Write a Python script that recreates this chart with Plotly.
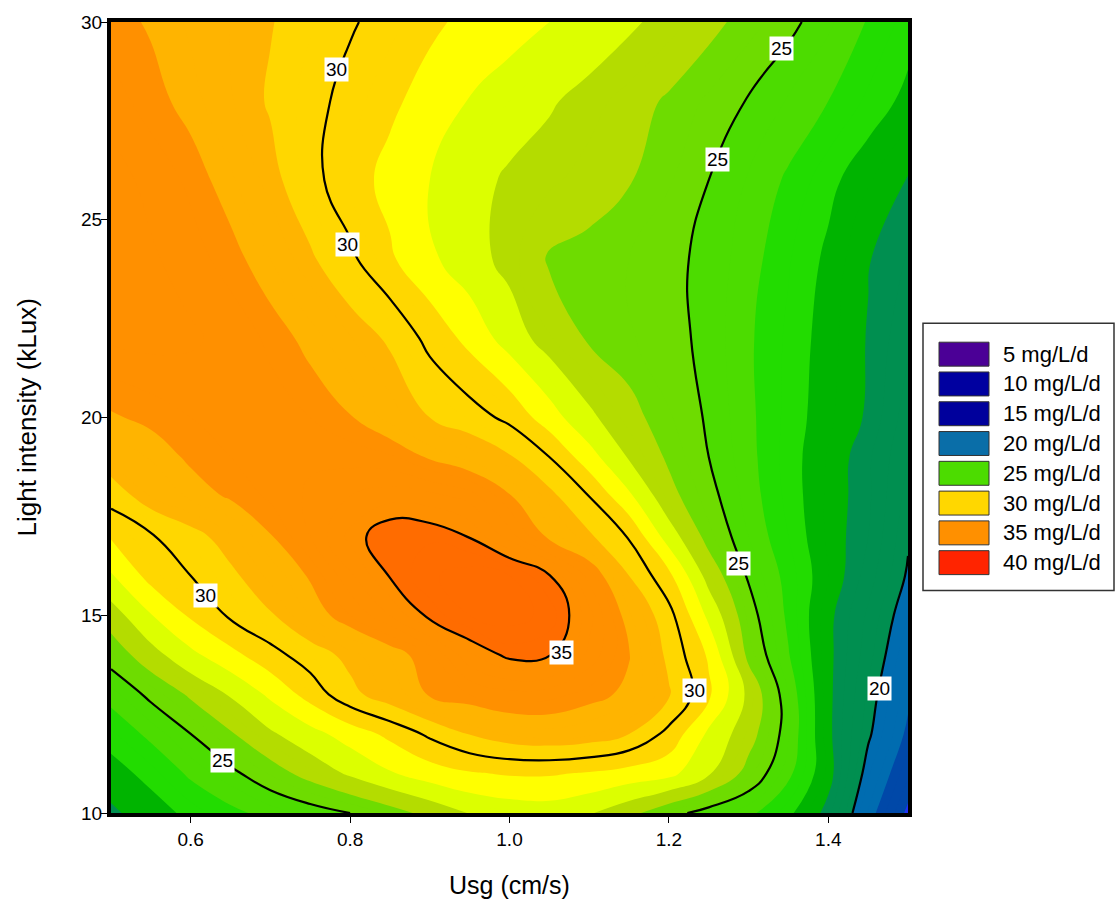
import plotly.graph_objects as go

# Response surface: biomass productivity (mg/L/d) vs. superficial gas velocity and light
usg = [0.50, 0.55, 0.60, 0.65, 0.70, 0.75, 0.80, 0.85, 0.90, 0.95, 1.00,
       1.05, 1.10, 1.15, 1.20, 1.25, 1.30, 1.35, 1.40, 1.45, 1.50]
light = [10, 11, 12, 13, 14, 15, 16, 17, 18, 19, 20, 22, 24, 26, 28, 30]

productivity = [
    [21.8, 22.55, 23.25, 23.8, 24.25, 24.6, 25.0, 25.6, 26.3, 27.05, 27.4, 27.5, 27.1, 26.3, 25.3, 24.65, 24.2, 23.2, 21.7, 18.9, 16.8],
    [22.6, 23.3, 24.15, 24.8, 25.55, 26.35, 27.15, 27.9, 28.5, 28.9, 29.1, 29.1, 28.9, 28.6, 28.3, 27.1, 25.65, 24.2, 22.35, 19.6, 17.6],
    [23.4, 24.2, 25.0, 25.9, 26.85, 27.65, 28.45, 29.25, 30.2, 31.05, 31.6, 31.8, 31.6, 31.0, 29.7, 27.8, 26.4, 24.6, 22.2, 20.15, 18.3],
    [24.3, 25.2, 26.15, 27.1, 28.2, 29.4, 30.7, 31.6, 32.6, 33.0, 33.3, 33.2, 32.8, 32.3, 31.1, 29.2, 26.75, 24.5, 22.2, 20.4, 18.7],
    [25.4, 26.6, 27.75, 28.7, 29.65, 30.5, 31.3, 32.05, 33.0, 34.4, 35.2, 35.05, 33.85, 32.55, 30.75, 28.85, 25.75, 24.05, 22.2, 20.7, 19.1],
    [26.5, 27.95, 29.15, 30.15, 30.9, 32.0, 33.0, 34.0, 35.2, 36.0, 36.3, 35.8, 34.2, 32.1, 30.35, 27.75, 25.35, 23.85, 22.2, 20.9, 19.5],
    [27.9, 29.35, 30.0, 30.8, 31.65, 32.6, 33.9, 35.05, 35.9, 36.3, 36.0, 35.05, 33.3, 31.0, 29.25, 26.6, 24.9, 23.75, 22.5, 21.25, 19.9],
    [29.1, 29.9, 30.65, 31.45, 32.45, 33.5, 34.65, 35.5, 35.4, 34.95, 33.75, 32.3, 31.15, 29.9, 27.5, 25.65, 24.5, 23.5, 22.4, 21.5, 20.1],
    [30.4, 31.5, 32.1, 32.6, 33.1, 33.6, 34.0, 34.3, 34.2, 33.8, 32.6, 31.3, 30.0, 28.2, 26.3, 25.25, 24.3, 23.35, 22.4, 21.6, 20.3],
    [31.6, 32.05, 32.65, 33.0, 33.3, 33.4, 33.3, 33.1, 32.4, 31.8, 31.1, 30.0, 28.4, 26.9, 25.85, 25.0, 24.2, 23.3, 22.45, 21.6, 20.5],
    [32.4, 32.7, 33.0, 33.2, 33.2, 33.0, 32.55, 31.8, 31.0, 30.45, 29.75, 28.45, 27.2, 26.3, 25.55, 24.9, 24.15, 23.35, 22.6, 21.9, 20.7],
    [33.6, 33.7, 33.6, 33.3, 32.9, 32.25, 31.55, 30.85, 29.7, 28.7, 27.55, 26.55, 25.9, 25.55, 25.25, 24.8, 24.1, 23.4, 22.7, 21.95, 21.1],
    [34.0, 33.6, 33.2, 32.8, 32.0, 31.15, 30.2, 29.15, 28.2, 27.4, 26.7, 25.9, 25.8, 25.5, 25.2, 24.8, 24.25, 23.55, 22.85, 22.05, 21.4],
    [33.8, 33.3, 32.9, 32.1, 31.3, 30.3, 29.45, 28.7, 28.0, 27.35, 26.85, 26.6, 26.3, 26.05, 25.55, 25.0, 24.45, 23.9, 23.2, 22.55, 21.95],
    [33.2, 32.8, 32.2, 31.55, 30.9, 30.3, 29.7, 29.2, 28.6, 27.95, 27.5, 27.1, 26.7, 26.3, 25.9, 25.4, 24.95, 24.45, 24.0, 23.4, 22.8],
    [32.8, 32.4, 31.9, 31.5, 31.05, 30.55, 30.1, 29.65, 29.2, 28.75, 28.4, 28.0, 27.6, 27.15, 26.7, 26.25, 25.7, 25.2, 24.6, 23.95, 23.3],
]

# Filled band boundaries and their colours
band_edges = [10, 17, 18.5, 20, 22, 23, 24, 25, 26, 27, 28, 29, 31, 32.5, 35, 45]
band_colors = ["#1e32f5", "#0048a8", "#006cb0", "#008f50", "#00b400", "#22dc00",
               "#4cdc00", "#6edc00", "#b4dc00", "#dcff00", "#ffff00", "#ffd700",
               "#ffb400", "#ff9000", "#ff6c00"]

# Labelled black isolines
line_start, line_end, line_step = 20, 35, 5

# Where the isoline value labels sit
label_usg = [0.783, 0.797, 1.341, 1.261, 1.287, 0.618, 1.065, 1.232, 1.464, 0.640]
label_light = [28.79, 24.38, 29.33, 26.52, 16.30, 15.50, 14.07, 13.10, 13.14, 11.34]
label_value = [30, 30, 25, 25, 25, 30, 35, 30, 20, 25]

# Legend entries
legend_values = [5, 10, 15, 20, 25, 30, 35, 40]
legend_colors = ["#4b0096", "#0000a0", "#00009c", "#0a6ea8", "#4cdc00", "#ffd700",
                 "#ff9000", "#ff2400"]

FONT = "Liberation Sans, Arial, sans-serif"

# Fill levels every 0.5 so that the uneven band edges above fall on levels
fill_start, fill_end, fill_step = 15.0, 40.0, 0.5
n_levels = int(round((fill_end - fill_start) / fill_step)) + 1
lo = fill_start - fill_step / 2
hi = fill_start + (n_levels - 0.5) * fill_step


def frac(v):
    return min(1.0, max(0.0, (v - lo) / (hi - lo)))


colorscale = []
for a, b, c in zip(band_edges[:-1], band_edges[1:], band_colors):
    fa, fb = frac(a), frac(b)
    if fb <= fa and colorscale:
        continue
    colorscale.append([fa, c])
    colorscale.append([fb, c])
colorscale[0][0] = 0.0
colorscale[-1][0] = 1.0

SMOOTH = 1.3

fig = go.Figure()
fig.add_trace(go.Contour(
    x=usg, y=light, z=productivity,
    autocontour=False,
    contours=dict(start=fill_start, end=fill_end, size=fill_step, coloring="fill"),
    colorscale=colorscale,
    line=dict(width=0, smoothing=SMOOTH),
    showscale=False,
    hoverinfo="skip",
))
fig.add_trace(go.Contour(
    x=usg, y=light, z=productivity,
    autocontour=False,
    contours=dict(start=line_start, end=line_end, size=line_step, coloring="none",
                  showlabels=False),
    line=dict(color="black", width=2.2, smoothing=SMOOTH),
    showscale=False,
    hoverinfo="skip",
))

annotations = []
for ux, ly, val in zip(label_usg, label_light, label_value):
    annotations.append(dict(
        x=ux, y=ly, xref="x", yref="y", text=str(val), showarrow=False,
        font=dict(family=FONT, size=19, color="black"),
        bgcolor="white", borderpad=1,
    ))

# Plot area in page pixels
L, R, T, B = 111, 908, 20, 813
W, H = 1116, 912


def paper_x(px):
    return (px - L) / (R - L)


def paper_y(py):
    return (B - py) / (B - T)


annotations.append(dict(
    x=0.5, y=paper_y(885), xref="paper", yref="paper", text="Usg (cm/s)",
    showarrow=False, font=dict(family=FONT, size=25, color="black"),
    xanchor="center", yanchor="middle",
))
annotations.append(dict(
    x=paper_x(26), y=0.5, xref="paper", yref="paper", text="Light intensity (kLux)",
    showarrow=False, textangle=-90, font=dict(family=FONT, size=26, color="black"),
    xanchor="center", yanchor="middle",
))

shapes = []
# Legend frame
shapes.append(dict(type="rect", xref="paper", yref="paper",
                   x0=paper_x(923), x1=paper_x(1114), y0=paper_y(322), y1=paper_y(590),
                   line=dict(color="#333333", width=1.5), fillcolor="white"))
sw_top, sw_step, sw_h = 341, 29.86, 24
for i, (val, col) in enumerate(zip(legend_values, legend_colors)):
    top = sw_top + i * sw_step
    shapes.append(dict(type="rect", xref="paper", yref="paper",
                       x0=paper_x(939), x1=paper_x(989),
                       y0=paper_y(top), y1=paper_y(top + sw_h),
                       line=dict(color="#333333", width=1), fillcolor=col))
    annotations.append(dict(
        x=paper_x(1001), y=paper_y(top + sw_h / 2), xref="paper", yref="paper",
        text=f"{val} mg/L/d", showarrow=False, xanchor="left", yanchor="middle",
        font=dict(family=FONT, size=22, color="black"),
    ))

axis_common = dict(
    showgrid=False, zeroline=False, showline=True, linecolor="black", linewidth=4,
    mirror=True, ticks="outside", ticklen=6, tickwidth=1, tickcolor="black",
    tickfont=dict(family=FONT, size=19, color="black"),
)

fig.update_layout(
    width=W, height=H, autosize=False,
    margin=dict(l=L, r=W - R, t=T, b=H - B, pad=0),
    paper_bgcolor="white", plot_bgcolor="white",
    xaxis=dict(range=[0.5, 1.5], tickvals=[0.6, 0.8, 1.0, 1.2, 1.4],
               ticktext=["0.6", "0.8", "1.0", "1.2", "1.4"], **axis_common),
    yaxis=dict(range=[10, 30], tickvals=[10, 15, 20, 25, 30],
               ticklabelstandoff=-5, **axis_common),
    annotations=annotations,
    shapes=shapes,
    showlegend=False,
)

fig.write_html("out.html")
